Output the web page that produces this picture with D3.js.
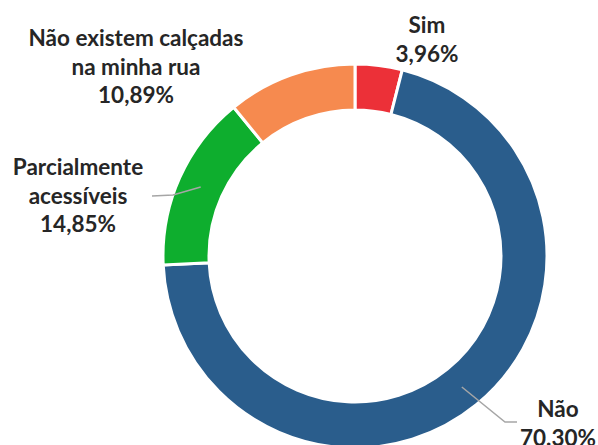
<!DOCTYPE html>
<html>
<head>
<meta charset="utf-8">
<script src="https://cdn.jsdelivr.net/npm/d3@7.9.0/dist/d3.min.js"></script>
<style>
  body { margin: 0; background: #fff; }
  svg text { font-family: Lato, "Open Sans", sans-serif; font-weight: 700; fill: #262626; }
</style>
</head>
<body>
<svg id="chart" width="598" height="445"></svg>
<script>
// data
const categories = ['Sim', 'Não', 'Parcialmente acessíveis', 'Não existem calçadas na minha rua'];
const values = [3.96, 70.30, 14.85, 10.89];
const valueLabels = ['3,96%', '70.30%', '14,85%', '10,89%'];
const labelLines = [['Sim'], ['Não'], ['Parcialmente', 'acessíveis'], ['Não existem calçadas', 'na minha rua']];
const colors = ['#EC3038', '#2A5D8C', '#0EAE2E', '#F68A4F'];

const svg = d3.select('#chart');
const cx = 355, cy = 256;
const outerR = 192, innerR = 146;

let g = svg.append('g').attr('transform', `translate(${cx},${cy})`);

let arcGenerator = d3.arc().innerRadius(innerR).outerRadius(outerR);
let pie = d3.pie().sort(null).value((d) => d);
let arcData = pie(values);

g.selectAll('path.slice')
  .data(arcData)
  .join('path')
  .attr('class', 'slice')
  .attr('d', arcGenerator)
  .attr('fill', (d, i) => colors[i])
  .attr('stroke', '#fff')
  .attr('stroke-width', 3);

// where each label sits (layout only)
const labelPos = [
  { x: 427, y: 33 },
  { x: 558, y: 417 },
  { x: 78, y: 175 },
  { x: 136, y: 46 }
];
const lineH = 28.5;

// leader lines: start at the slice centroid, elbow, end next to the text
const leaders = {
  1: [[505, 422], [517, 422]],
  2: [[173, 195], [152, 196]]
};

Object.entries(leaders).forEach(([idx, pts]) => {
  let c = arcGenerator.centroid(arcData[idx]);
  let all = [[c[0] + cx, c[1] + cy], ...pts];
  svg.append('path')
    .attr('d', d3.line()(all))
    .attr('fill', 'none')
    .attr('stroke', '#A6A6A6')
    .attr('stroke-width', 1.5);
});

labelLines.forEach((lines, i) => {
  let t = svg.append('text')
    .attr('text-anchor', 'middle')
    .attr('font-size', 22.5);
  lines.concat([valueLabels[i]]).forEach((s, j) => {
    t.append('tspan')
      .attr('x', labelPos[i].x)
      .attr('y', labelPos[i].y + j * lineH)
      .text(s);
  });
});
</script>
</body>
</html>
